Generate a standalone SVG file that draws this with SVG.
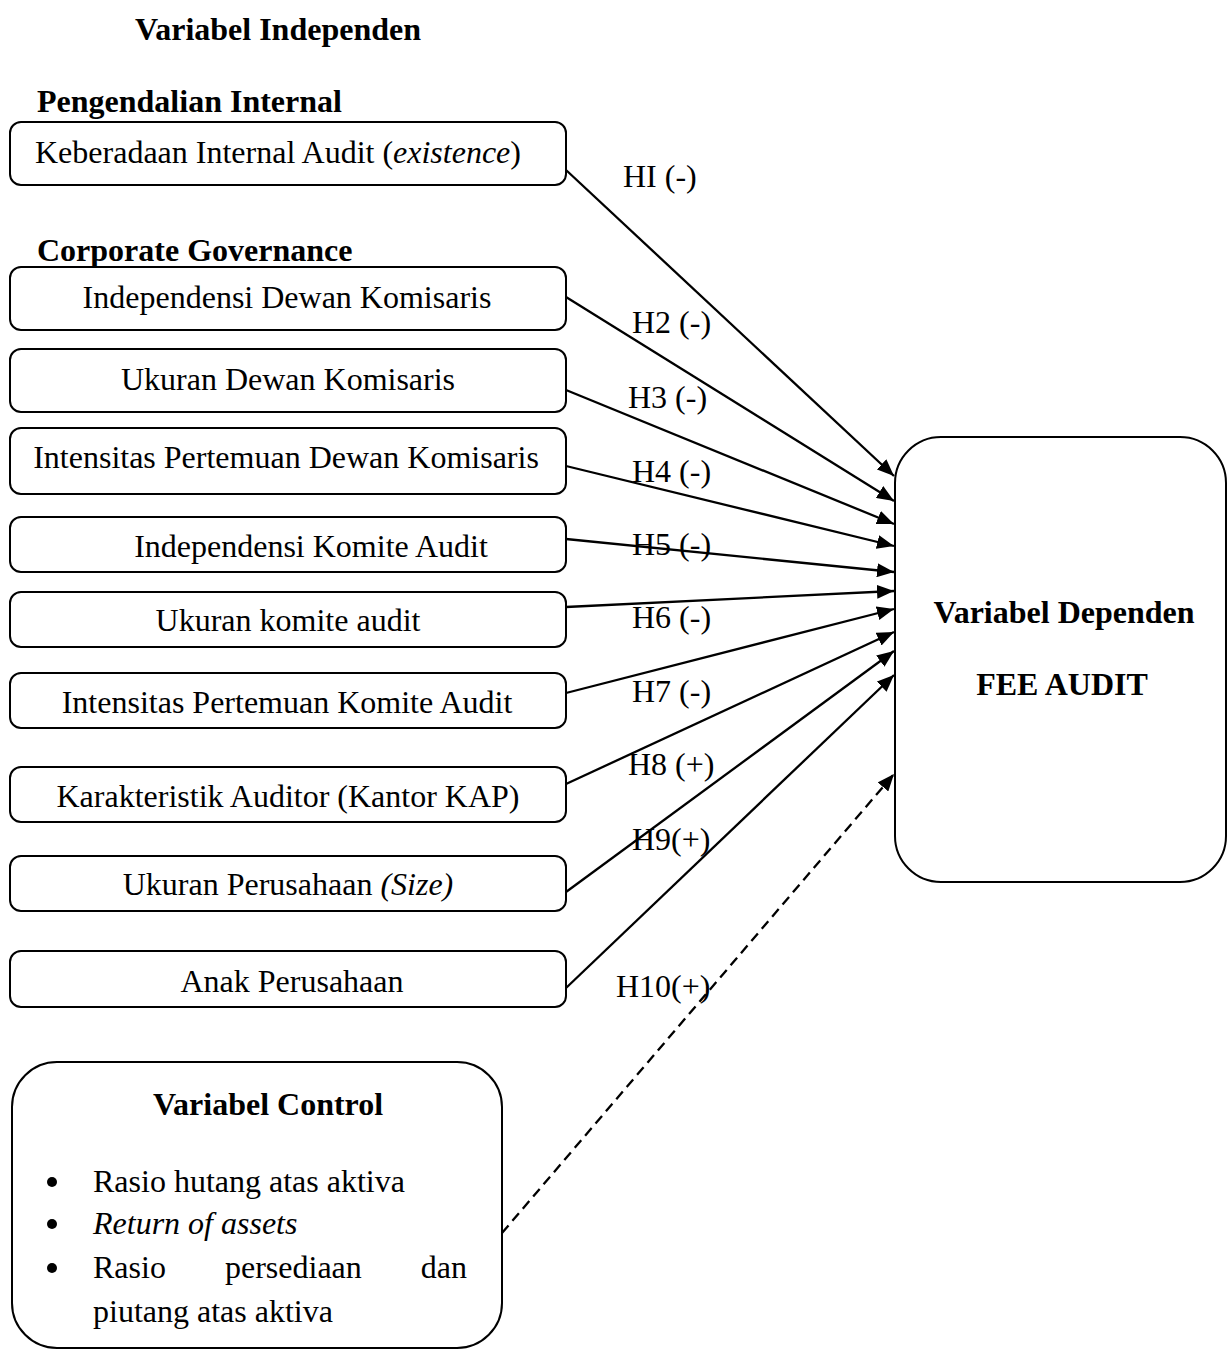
<svg xmlns="http://www.w3.org/2000/svg" width="1227" height="1349" viewBox="0 0 1227 1349">
<style>
  text { font-family: "Liberation Serif", "Times New Roman", serif; font-size: 32px; fill: #000; }
  .b { font-weight: bold; }
  .i { font-style: italic; }
  .m { text-anchor: middle; }
  .box { fill: #fff; stroke: #000; stroke-width: 2; }
  .con { stroke: #000; stroke-width: 2.3; fill: none; }
  .dash { stroke-dasharray: 10 6; }
  .dot { fill: #000; }
</style>
<defs>
  <marker id="arr" markerUnits="userSpaceOnUse" markerWidth="18" markerHeight="14" refX="17" refY="7" orient="auto">
    <path d="M0,0 L17,7 L0,14 z" fill="#000"/>
  </marker>
</defs>
<rect width="1227" height="1349" fill="#fff"/>

<g id="headings">
  <text class="b" x="135" y="40">Variabel Independen</text>
  <text class="b" x="37" y="112">Pengendalian Internal</text>
  <text class="b" x="37" y="261">Corporate Governance</text>
</g>

<g id="connectors">
  <line class="con" x1="566" y1="170" x2="894" y2="476" marker-end="url(#arr)"/>
  <line class="con" x1="566" y1="297" x2="894" y2="501" marker-end="url(#arr)"/>
  <line class="con" x1="566" y1="390" x2="894" y2="524" marker-end="url(#arr)"/>
  <line class="con" x1="566" y1="466" x2="894" y2="546" marker-end="url(#arr)"/>
  <line class="con" x1="566" y1="539" x2="894" y2="572" marker-end="url(#arr)"/>
  <line class="con" x1="566" y1="607" x2="894" y2="591" marker-end="url(#arr)"/>
  <line class="con" x1="566" y1="693" x2="894" y2="609" marker-end="url(#arr)"/>
  <line class="con" x1="566" y1="784" x2="894" y2="632" marker-end="url(#arr)"/>
  <line class="con" x1="566" y1="892" x2="894" y2="651" marker-end="url(#arr)"/>
  <line class="con" x1="566" y1="988" x2="894" y2="675" marker-end="url(#arr)"/>
  <line class="con dash" x1="502" y1="1233" x2="894" y2="774" marker-end="url(#arr)"/>
</g>

<g id="labels">
  <text x="623" y="187">HI (-)</text>
  <text x="632" y="333">H2 (-)</text>
  <text x="628" y="408">H3 (-)</text>
  <text x="632" y="482">H4 (-)</text>
  <text x="632" y="555">H5 (-)</text>
  <text x="632" y="628">H6 (-)</text>
  <text x="632" y="702">H7 (-)</text>
  <text x="628" y="775">H8 (+)</text>
  <text x="632" y="850">H9(+)</text>
  <text x="616" y="997">H10(+)</text>
</g>

<g id="n1">
  <rect class="box" x="10" y="122" width="556" height="63" rx="11"/>
  <text x="35" y="163">Keberadaan Internal Audit (<tspan class="i">existence</tspan>)</text>
</g>
<g id="n2">
  <rect class="box" x="10" y="267" width="556" height="63" rx="11"/>
  <text class="m" x="287" y="308">Independensi Dewan Komisaris</text>
</g>
<g id="n3">
  <rect class="box" x="10" y="349" width="556" height="63" rx="11"/>
  <text class="m" x="288" y="390">Ukuran Dewan Komisaris</text>
</g>
<g id="n4">
  <rect class="box" x="10" y="428" width="556" height="66" rx="11"/>
  <text class="m" x="286" y="468">Intensitas Pertemuan Dewan Komisaris</text>
</g>
<g id="n5">
  <rect class="box" x="10" y="517" width="556" height="55" rx="11"/>
  <text class="m" x="311" y="557">Independensi Komite Audit</text>
</g>
<g id="n6">
  <rect class="box" x="10" y="592" width="556" height="55" rx="11"/>
  <text class="m" x="288" y="631">Ukuran komite audit</text>
</g>
<g id="n7">
  <rect class="box" x="10" y="673" width="556" height="55" rx="11"/>
  <text class="m" x="287" y="713">Intensitas Pertemuan Komite Audit</text>
</g>
<g id="n8">
  <rect class="box" x="10" y="767" width="556" height="55" rx="11"/>
  <text class="m" x="288" y="807">Karakteristik Auditor (Kantor KAP)</text>
</g>
<g id="n9">
  <rect class="box" x="10" y="856" width="556" height="55" rx="11"/>
  <text class="m" x="288" y="895">Ukuran Perusahaan <tspan class="i">(Size)</tspan></text>
</g>
<g id="n10">
  <rect class="box" x="10" y="951" width="556" height="56" rx="11"/>
  <text class="m" x="292" y="992">Anak Perusahaan</text>
</g>

<g id="dependent">
  <rect class="box" x="895" y="437" width="331" height="445" rx="46"/>
  <text class="b m" x="1064" y="623">Variabel Dependen</text>
  <text class="b m" x="1062" y="695">FEE AUDIT</text>
</g>

<g id="control">
  <rect class="box" x="12" y="1062" width="490" height="286" rx="45"/>
  <text class="b m" x="268" y="1115">Variabel Control</text>
  <circle class="dot" cx="52" cy="1182" r="5"/>
  <text x="93" y="1192">Rasio hutang atas aktiva</text>
  <circle class="dot" cx="52" cy="1224" r="5"/>
  <text class="i" x="93" y="1234">Return of assets</text>
  <circle class="dot" cx="52" cy="1268" r="5"/>
  <text x="93" y="1278">Rasio</text>
  <text x="225" y="1278">persediaan</text>
  <text x="467" y="1278" style="text-anchor:end">dan</text>
  <text x="93" y="1322">piutang atas aktiva</text>
</g>
</svg>
